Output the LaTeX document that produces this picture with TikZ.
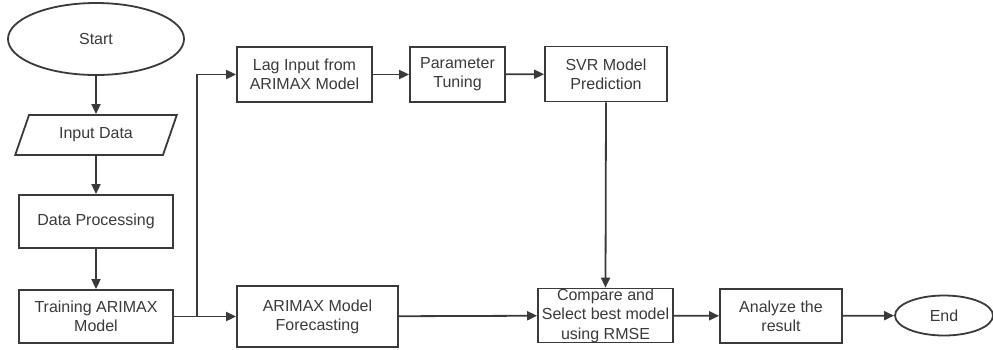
\documentclass[tikz,border=0pt]{standalone}
\usepackage{fontspec}
\setmainfont{Liberation Sans}
\usetikzlibrary{shapes.geometric,arrows.meta}
\definecolor{ink}{HTML}{3A3A3A}
\begin{document}
\begin{tikzpicture}[x=1pt,y=-1pt,
  every node/.style={text=ink,font=\fontsize{16}{19}\selectfont,align=center,line width=1.8pt,draw=ink,inner sep=0pt},
  box/.style={rectangle,minimum width=#1},
  term/.style={ellipse},
  flow/.style={draw=ink,line width=1.8pt,-{Triangle[length=10pt,width=9pt]}}]
\useasboundingbox (0,0) rectangle (993,349);
% left column
\node[term,minimum width=176,minimum height=72] (start) at (96,39) {Start};
\node[trapezium,trapezium left angle=62,trapezium right angle=118,trapezium stretches=true,
      minimum width=162,minimum height=40] (input) at (96,135) {Input Data};
\node[box=154,minimum height=53] (dp) at (96,221.5) {Data Processing};
\node[box=154,minimum height=53] (ta) at (96,316.5) {Training ARIMAX\\Model};
% upper row
\node[box=135,minimum height=55] (lag) at (304.5,74.5) {Lag Input from\\ARIMAX Model};
\node[box=95,minimum height=55] (pt) at (457.5,74.5) {Parameter\\Tuning};
\node[box=122,minimum height=55] (svr) at (606,74) {SVR Model\\Prediction};
% lower row
\node[box=161,minimum height=61] (fc) at (317.5,316.5) {ARIMAX Model\\Forecasting};
\node[box=135,minimum height=53,font=\fontsize{16}{19.5}\selectfont] (cmp) at (605.5,315.5) {Compare and\\Select best model\\using RMSE};
\node[box=122,minimum height=54] (an) at (781,316) {Analyze the\\result};
\node[term,minimum width=98,minimum height=40] (end) at (944,315.5) {End};
% connectors
\coordinate (split) at (197,316.5);
\draw[flow] (start) -- (input);
\draw[flow] (input) -- (dp);
\draw[flow] (dp) -- (ta);
\draw[flow] (ta.east) -- (fc.west);
\draw[flow] (split) |- (lag.west);
\draw[flow] (lag) -- (pt);
\draw[flow] (pt) -- (svr);
\draw[flow] (svr.south) -- (cmp.north);
\draw[flow] (fc) -- (cmp);
\draw[flow] (cmp) -- (an);
\draw[flow] (an) -- (end);
\end{tikzpicture}
\end{document}
